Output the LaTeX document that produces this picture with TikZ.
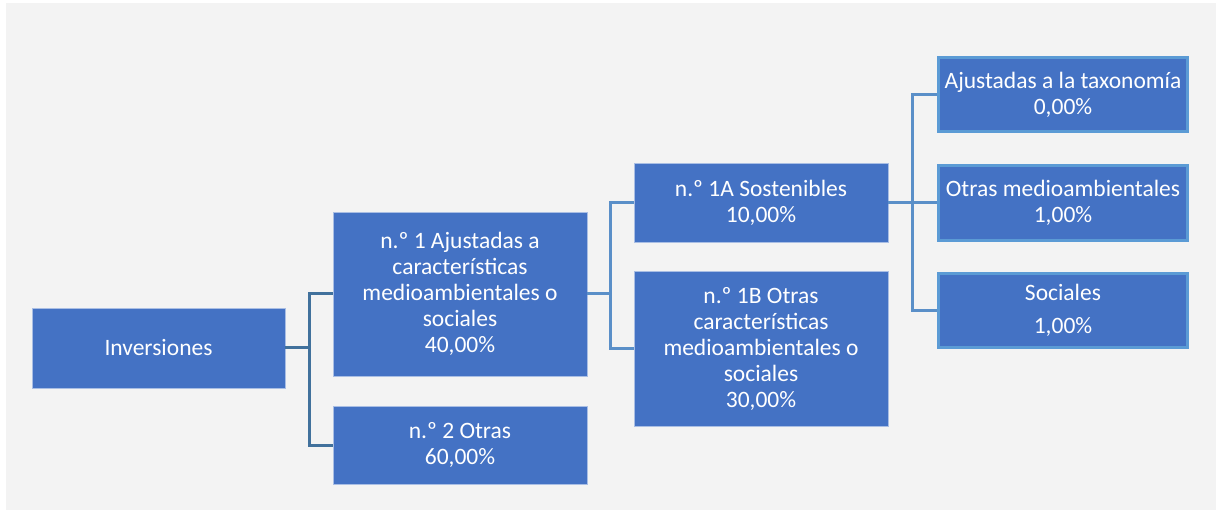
\documentclass[tikz,border=0pt]{standalone}
\usepackage{fontspec}
\setmainfont{Carlito}
\definecolor{bgc}{HTML}{F3F3F3}
\definecolor{boxc}{HTML}{4472C4}
\definecolor{edgec}{HTML}{5B9BD5}
\definecolor{lineA}{HTML}{41719C}
\definecolor{lineB}{HTML}{5A8FC8}
\definecolor{thinb}{HTML}{A9BEE4}
\tikzset{
  box/.style={fill=boxc, text=white, align=center, inner sep=0pt,
    font=\fontsize{23.5}{26}\selectfont, draw=thinb, line width=0.8pt},
  rbox/.style={box, draw=edgec, line width=3pt},
  linkA/.style={draw=lineA, line width=3pt},
  linkB/.style={draw=lineB, line width=3pt}
}
\begin{document}
\begin{tikzpicture}[x=1pt,y=-1pt]
\useasboundingbox (0,0) rectangle (1221,510);
\fill[bgc] (6,3) rectangle (1216,510);
\node[box, minimum width=253pt, minimum height=80pt] (inv) at (158.5,348) {Inversiones};
\node[box, minimum width=254pt, minimum height=164pt] (n1) at (460,294) {n.º 1 Ajustadas a\\características\\medioambientales o\\sociales\\40,00\%};
\node[box, minimum width=254pt, minimum height=78pt] (n2) at (460,445) {n.º 2 Otras\\60,00\%};
\node[box, minimum width=254pt, minimum height=79pt] (n1a) at (761,202.5) {n.º 1A Sostenibles\\10,00\%};
\node[box, minimum width=254pt, minimum height=155pt] (n1b) at (761,348.5) {n.º 1B Otras\\características\\medioambientales o\\sociales\\30,00\%};
\node[rbox, minimum width=249pt, minimum height=74pt] (r1) at (1063,94.5) {Ajustadas a la taxonomía\\0,00\%};
\node[rbox, minimum width=249pt, minimum height=75pt] (r2) at (1063,203) {Otras medioambientales\\1,00\%};
\node[rbox, minimum width=249pt, minimum height=74pt] (r3) at (1063,310.5) {Sociales\\[7pt]1,00\%};
\draw[linkA] (inv.east) -- ++(24,0) |- (n1.west);
\draw[linkA] (inv.east) -- ++(24,0) |- (n2.west);
\draw[linkB] (n1.east) -- ++(23,0) |- (n1a.west);
\draw[linkB] (n1.east) -- ++(23,0) |- (n1b.west);
\draw[linkB] (n1a.east) -- ++(24,0) |- (r1.west);
\draw[linkB] (n1a.east) -- ++(24,0) |- (r2.west);
\draw[linkB] (n1a.east) -- ++(24,0) |- (r3.west);
\end{tikzpicture}
\end{document}
